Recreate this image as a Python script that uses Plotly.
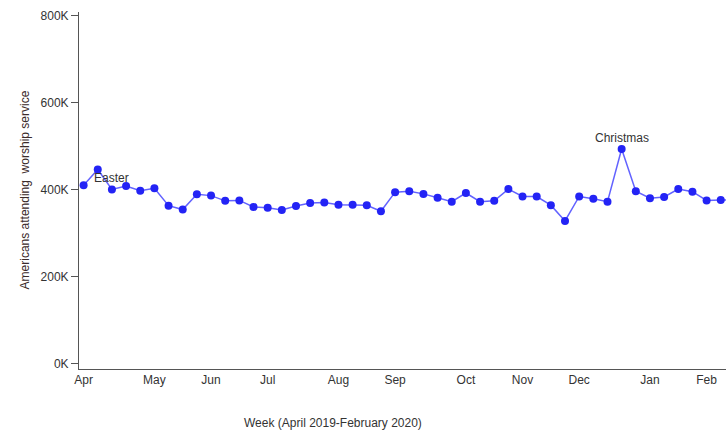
import plotly.graph_objects as go

# weekly attendance, in thousands (week 1 = mid April 2019)
weeks = list(range(1, 48))
attendance = [410, 446, 400, 408, 397, 403, 363, 354, 389, 386,
              374, 375, 360, 358, 353, 362, 369, 370, 365, 365,
              364, 350, 394, 396, 390, 381, 372, 392, 372, 374,
              401, 384, 384, 364, 328, 384, 379, 372, 493, 396,
              380, 383, 401, 395, 375, 376, 376]

month_weeks = [1, 6, 10, 14, 19, 23, 28, 32, 36, 41, 45]
month_labels = ['Apr', 'May', 'Jun', 'Jul', 'Aug', 'Sep', 'Oct', 'Nov', 'Dec', 'Jan', 'Feb']

y_ticks = [0, 200, 400, 600, 800]
y_tick_labels = ['0K', '200K', '400K', '600K', '800K']

events = {'Easter': 2, 'Christmas': 39}

font_family = "Arial, Liberation Sans, sans-serif"

fig = go.Figure()
fig.add_trace(go.Scatter(
    x=weeks,
    y=attendance,
    mode='lines+markers',
    line=dict(color='rgba(70,70,255,0.85)', width=1.5),
    marker=dict(color='#2323f5', size=8),
    cliponaxis=True,
    showlegend=False
))

# holiday labels
fig.add_annotation(x=events['Easter'], y=attendance[events['Easter'] - 1],
                   text='Easter', showarrow=False, xshift=14, yshift=-9,
                   font=dict(family=font_family, size=12, color='#333333'))
fig.add_annotation(x=events['Christmas'], y=attendance[events['Christmas'] - 1],
                   text='Christmas', showarrow=False, yshift=11,
                   font=dict(family=font_family, size=12, color='#333333'))

# axis titles
fig.add_annotation(xref='paper', yref='paper', x=0.393, y=-0.15,
                   text='Week (April 2019-February 2020)', showarrow=False,
                   yanchor='middle',
                   font=dict(family=font_family, size=12, color='#333333'))
fig.add_annotation(xref='paper', yref='paper', x=-0.083, y=0.501,
                   text='Americans attending  worship service', showarrow=False,
                   textangle=-90, xanchor='center', yanchor='middle',
                   font=dict(family=font_family, size=12, color='#3a2a2a'))

fig.update_layout(
    width=726, height=434,
    margin=dict(l=79, r=0, t=12, b=65),
    plot_bgcolor='white', paper_bgcolor='white',
    font=dict(family=font_family, size=12, color='#333333'),
    xaxis=dict(
        range=[0.675, 46.37],
        tickvals=month_weeks, ticktext=month_labels,
        showline=True, linecolor='#555555', linewidth=1,
        showgrid=False, zeroline=False, ticks=''
    ),
    yaxis=dict(
        range=[-12.1, 807.6],
        tickvals=y_ticks, ticktext=y_tick_labels,
        showline=True, linecolor='#555555', linewidth=1,
        showgrid=False, zeroline=False,
        ticks='outside', ticklen=7, tickcolor='#555555'
    )
)

# page body has a default 8px margin; remove it so the figure sits at 0,0
fig.write_html("out.html", config={'displayModeBar': False},
               post_script="document.body.style.margin='0';")
